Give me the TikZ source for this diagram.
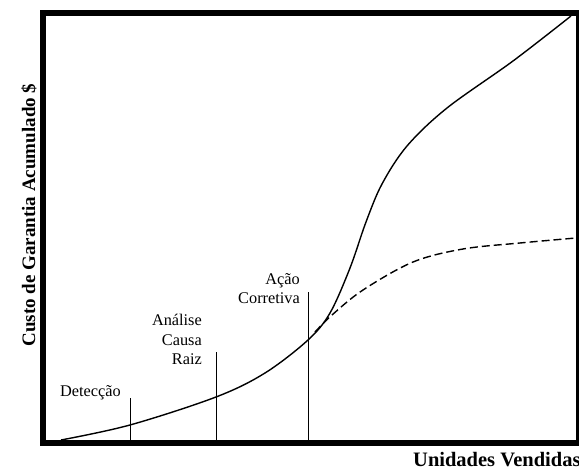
\documentclass[tikz,border=0pt]{standalone}
\usepackage{fontspec}
\setmainfont{Liberation Serif}
\begin{document}
\begin{tikzpicture}[x=1pt,y=-1pt,
  frame/.style={fill=black},
  curve/.style={line width=1.4pt,line join=round},
  marker/.style={line width=1pt},
  lbl/.style={inner sep=0pt,anchor=base east,font=\fontsize{16.3}{19}\selectfont},
  axis/.style={inner sep=0pt,font=\fontsize{19}{23}\selectfont\bfseries}]
\useasboundingbox (0,0) rectangle (579,470);
% heavy frame of the plot area
\fill[frame] (40,10) rectangle (46,446);
\fill[frame] (40,10) rectangle (579,16);
\fill[frame] (40,440) rectangle (579,446);
\fill[frame] (576,10) rectangle (579,446);
% milestone markers
\coordinate (d0) at (130,441); \coordinate (d1) at (130,398);
\coordinate (a0) at (216,441); \coordinate (a1) at (216,352);
\coordinate (c0) at (308,441); \coordinate (c1) at (308,292);
\draw[marker] (d0) -- (d1);
\draw[marker] (a0) -- (a1);
\draw[marker] (c0) -- (c1);
% cumulative cost without correction
\draw[curve] plot[smooth,tension=0.55] coordinates
  {(61,440) (130,425) (216,397) (265,373) (308,340) (330,313) (350,268) (366,222)
   (382,184) (407,146) (447,108) (513,61) (571,16)};
% cumulative cost after corrective action
\draw[curve,dash pattern=on 8pt off 4pt] plot[smooth,tension=0.55] coordinates
  {(315,332) (332,315) (363,290) (413,262) (463,249) (520,243) (576,238)};
% milestone labels
\node[lbl] (det) at (121,397) {Detecção};
\node[lbl] (an1) at (202,326) {Análise};
\node[lbl] (an2) at (202,346) {Causa};
\node[lbl] (an3) at (202,365) {Raiz};
\node[lbl] (ac1) at (300,285) {Ação};
\node[lbl] (ac2) at (300,304) {Corretiva};
% axis titles
\node[axis,anchor=base west,font=\fontsize{20.5}{24}\selectfont\bfseries] (xt) at (413,467) {Unidades Vendidas};
\node[axis,rotate=90] (yt) at (29,215) {Custo de Garantia Acumulado \$};
\end{tikzpicture}
\end{document}
